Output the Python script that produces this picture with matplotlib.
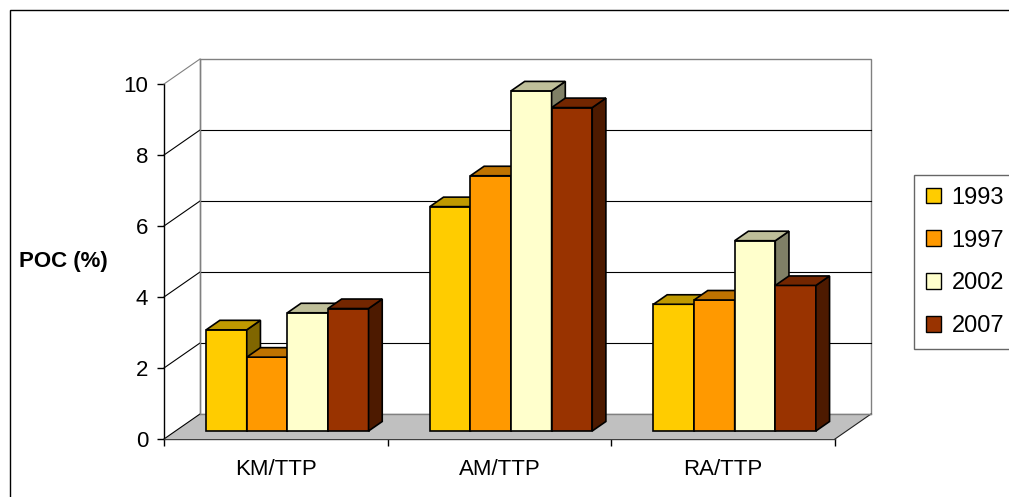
import numpy as np
import matplotlib
matplotlib.use("Agg")
import matplotlib.pyplot as plt
from matplotlib.patches import Polygon, Rectangle, Patch
from matplotlib.lines import Line2D
from matplotlib.transforms import IdentityTransform

plt.rcParams['font.family'] = ['Liberation Sans', 'DejaVu Sans']

# ---- data ----
categories = ["KM/TTP", "AM/TTP", "RA/TTP"]
series_names = ["1993", "1997", "2002", "2007"]
poc_1993 = [2.85, 6.32, 3.57]
poc_1997 = [2.08, 7.19, 3.69]
poc_2002 = [3.33, 9.58, 5.36]
poc_2007 = [3.45, 9.11, 4.10]
series_values = [poc_1993, poc_1997, poc_2002, poc_2007]
series_colors = ["#FFCC00", "#FF9900", "#FFFFCC", "#993300"]
y_ticks = [0, 2, 4, 6, 8, 10]
y_label = "POC (%)"

W, H = 1009, 497
fig = plt.figure(figsize=(W / 100, H / 100), dpi=100)
fig.patch.set_facecolor("white")

# front plane of the pseudo-3D plot
ax = fig.add_axes([164 / W, (H - 439) / H, (835 - 164) / W, (439 - 84) / H])
ax.set_xlim(0, len(categories))
ax.set_ylim(0, 10)
ax.patch.set_visible(False)
for s in ("top", "right"):
    ax.spines[s].set_visible(False)
ax.spines["left"].set_color("black")
ax.spines["bottom"].set_color("#404040")
ax.spines["left"].set_linewidth(1)
ax.spines["bottom"].set_linewidth(1)

ax.set_yticks(y_ticks)
ax.tick_params(axis="y", length=5, width=1, direction="out", pad=6.5, labelsize=16)
ax.set_xticks(np.arange(len(categories) + 1))
ax.set_xticklabels([])
ax.set_xticks(np.arange(len(categories)) + 0.5, minor=True)
ax.set_xticklabels(categories, minor=True)
ax.tick_params(axis="x", which="major", length=5, width=1, direction="out")
ax.tick_params(axis="x", which="minor", length=0, pad=14.5, labelsize=16)

# depth projection (pixels for full depth)
DX, DY = 36, 25
ID = IdentityTransform()


def P(x, v, f):
    px, py = ax.transData.transform((x, v))
    return (px + DX * f, py + DY * f)


def poly(pts, fc, ec="none", lw=1.0, z=1.0):
    p = Polygon(pts, closed=True, facecolor=fc, edgecolor=ec, linewidth=lw,
                transform=ID, zorder=z, clip_on=False, joinstyle="miter")
    fig.add_artist(p)


def seg(a, b, color, lw=0.8, z=1.0):
    fig.add_artist(Line2D([a[0], b[0]], [a[1], b[1]], color=color, linewidth=lw,
                          transform=ID, zorder=z, clip_on=False))


ncat = len(categories)
# back wall
poly([P(0, 0, 1), P(ncat, 0, 1), P(ncat, 10, 1), P(0, 10, 1)], "white", "#808080", 1.0, z=0.5)
# floor
poly([P(0, 0, 0), P(ncat, 0, 0), P(ncat, 0, 1), P(0, 0, 1)], "#C0C0C0", "none", z=0.6)
seg(P(ncat, 0, 0), P(ncat, 0, 1), "#202020", 0.8, z=0.7)
seg(P(0, 0, 1), P(ncat, 0, 1), "#808080", 1.0, z=0.7)
# gridlines on back wall and side wall
for v in y_ticks:
    col = "#808080" if v == 10 else "black"
    seg(P(0, v, 0), P(0, v, 1), col, 0.8, z=0.7)
    if 0 < v < 10:
        seg(P(0, v, 1), P(ncat, v, 1), "black", 0.8, z=0.7)
seg(P(0, 0, 1), P(0, 10, 1), "#808080", 1.0, z=0.7)

# bars
gap = 0.137
bw = (1 - 2 * gap) / len(series_values)
f1, f2 = 0.32, 0.70


def shade(hexcol, k):
    r, g, b = matplotlib.colors.to_rgb(hexcol)
    return (r * k, g * k, b * k)


z = 2.0
for i in range(ncat):
    for j, vals in enumerate(series_values):
        v = vals[i]
        c = series_colors[j]
        x0 = i + gap + j * bw
        x1 = x0 + bw
        poly([P(x0, 0, f1), P(x1, 0, f1), P(x1, v, f1), P(x0, v, f1)], c, "black", 1.2, z)
        poly([P(x1, 0, f1), P(x1, 0, f2), P(x1, v, f2), P(x1, v, f1)], shade(c, 0.5), "black", 1.2, z)
        poly([P(x0, v, f1), P(x1, v, f1), P(x1, v, f2), P(x0, v, f2)], shade(c, 0.75), "black", 1.2, z)
        z += 0.01

# axis title
fig.text(63 / W, 1 - 266.5 / H, y_label, fontsize=16, fontweight="bold",
         ha="center", va="baseline")

# legend
handles = [Patch(facecolor=c, edgecolor="black", linewidth=1) for c in series_colors]
leg = fig.legend(handles, series_names, loc="upper left",
                 bbox_to_anchor=(914 / W, 1 - 175 / H), fontsize=17,
                 frameon=True, fancybox=False, shadow=False,
                 handlelength=0.64, handleheight=0.64, handletextpad=0.45,
                 labelspacing=0.88, borderpad=0.5, borderaxespad=0)
leg.get_frame().set_edgecolor("#404040")
leg.get_frame().set_linewidth(1)

# chart area border
fig.add_artist(Rectangle((9.5, -50), 1100, (H - 10) + 50, fill=False,
                         edgecolor="black", linewidth=1, transform=ID, clip_on=False))

fig.savefig("out.png", dpi=100)
